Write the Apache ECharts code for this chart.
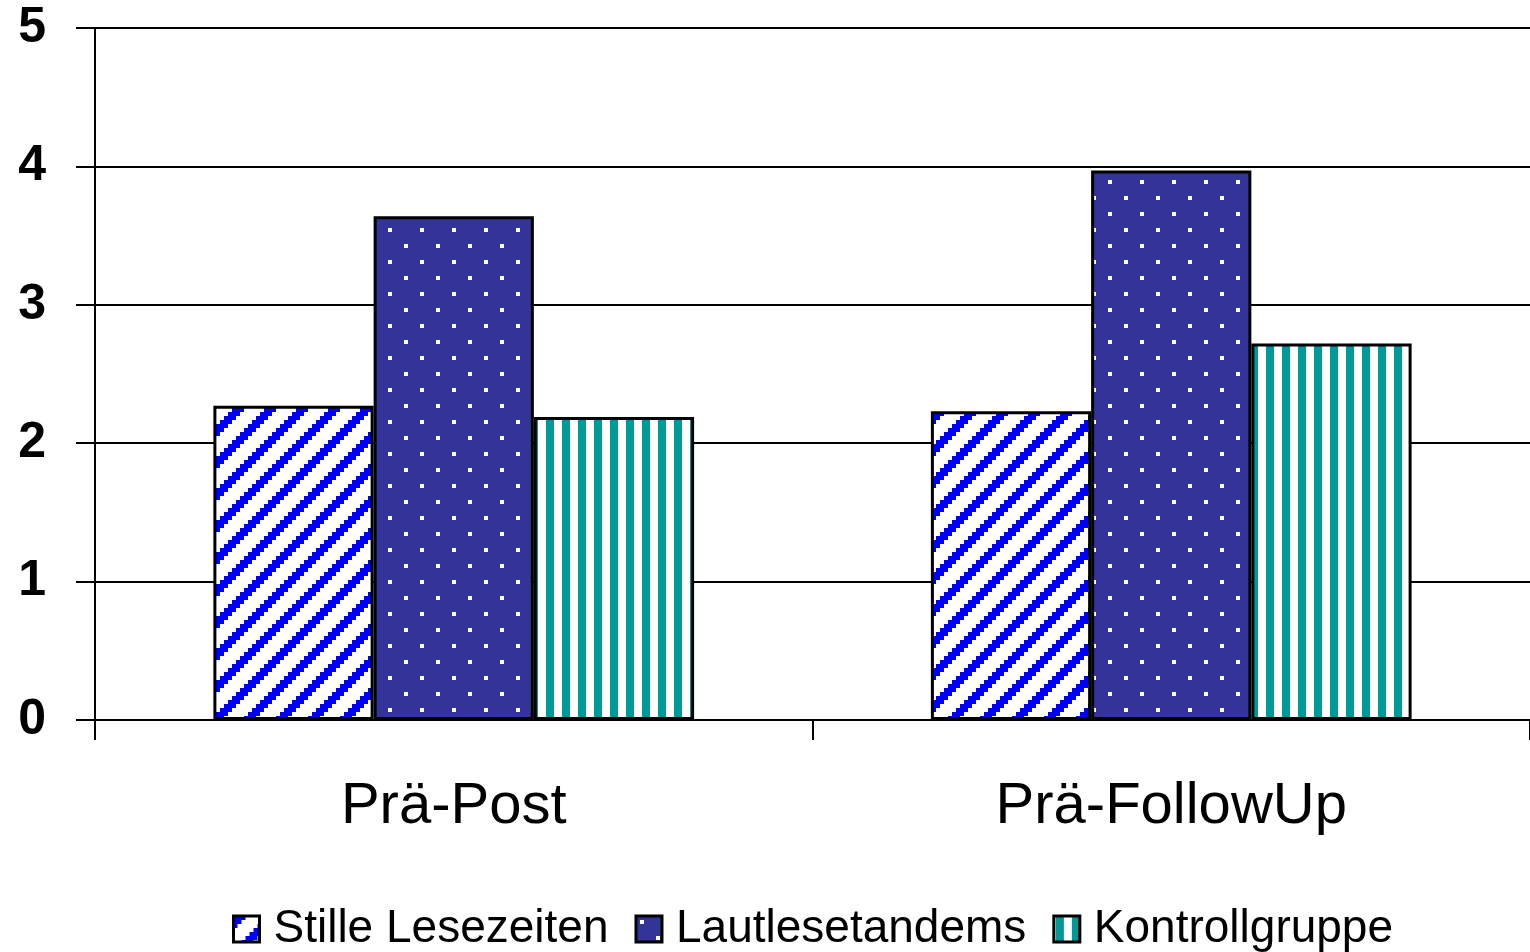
<!DOCTYPE html>
<html>
<head>
<meta charset="utf-8">
<script src="https://cdn.jsdelivr.net/npm/echarts@6/dist/echarts.min.js"></script>
<style>
	html, body { margin: 0; padding: 0; background: #fff; }
	#mychart { width: 1530px; height: 952px; }
</style>
</head>
<body>
<div id="mychart"></div>
<script>
var categories = ['Prä-Post', 'Prä-FollowUp'];
var seriesNames = ['Stille Lesezeiten', 'Lautlesetandems', 'Kontrollgruppe'];
var stille = [2.27, 2.23];
var laut = [3.64, 3.97];
var kontroll = [2.19, 2.72];
var yTicks = [0, 1, 2, 3, 4, 5];

// Muster für die Balken (8x8 Raster, 4-fach vergrößert)
function stripesDiag() {
	var c = document.createElement('canvas');
	c.width = 32; c.height = 32;
	var g = c.getContext('2d');
	g.fillStyle = '#fff';
	g.fillRect(0, 0, 32, 32);
	g.fillStyle = '#0000ff';
	for(var r = 0; r < 8; r++) {
		for(var col = 0; col < 8; col++) {
			if((col + r) % 8 < 3) {
				g.fillRect(col * 4, r * 4, 4, 4);
			}
		}
	}
	return c;
}

function dots() {
	var c = document.createElement('canvas');
	c.width = 32; c.height = 32;
	var g = c.getContext('2d');
	g.fillStyle = '#333399';
	g.fillRect(0, 0, 32, 32);
	g.fillStyle = '#fff';
	g.fillRect(4, 4, 4, 4);
	g.fillRect(20, 20, 4, 4);
	return c;
}

function stripesVert() {
	var c = document.createElement('canvas');
	c.width = 16; c.height = 16;
	var g = c.getContext('2d');
	g.fillStyle = '#fff';
	g.fillRect(0, 0, 16, 16);
	g.fillStyle = '#009999';
	g.fillRect(2, 0, 8, 16);
	return c;
}

var fills = [stripesDiag(), dots(), stripesVert()];
var values = [stille, laut, kontroll];

var series = [];
for(var i = 0; i < 3; i++) {
	series.push({
		name: seriesNames[i],
		type: 'bar',
		data: values[i],
		barGap: '0%',
		barCategoryGap: '33%',
		itemStyle: {
			color: { image: fills[i], repeat: 'repeat' },
			borderColor: '#000',
			borderWidth: 3
		}
	});
}

var myChart = echarts.init(document.getElementById('mychart'));
var option = {
	animation: false,
	grid: {
		left: 95,
		right: 0,
		top: 28,
		bottom: 232,
		containLabel: false
	},
	legend: {
		top: 901,
		left: 227,
		itemWidth: 26,
		itemHeight: 26,
		itemGap: 26,
		icon: 'rect',
		itemStyle: { borderColor: '#000', borderWidth: 3 },
		textStyle: {
			fontFamily: 'Liberation Sans, Arial, sans-serif',
			fontSize: 46,
			color: '#000',
			padding: [0, 0, 0, 9]
		},
		data: seriesNames
	},
	xAxis: {
		type: 'category',
		data: categories,
		axisLine: { lineStyle: { color: '#000', width: 2 } },
		axisTick: { show: true, length: 20, lineStyle: { color: '#000', width: 2 } },
		axisLabel: {
			margin: 58,
			fontFamily: 'Liberation Sans, Arial, sans-serif',
			fontSize: 58,
			color: '#000'
		}
	},
	yAxis: {
		type: 'value',
		min: yTicks[0],
		max: yTicks[yTicks.length - 1],
		interval: 1,
		axisLine: { show: true, lineStyle: { color: '#000', width: 2 } },
		axisTick: { show: true, length: 19, lineStyle: { color: '#000', width: 2 } },
		splitLine: { lineStyle: { color: '#000', width: 2 } },
		axisLabel: {
			margin: 49,
			fontFamily: 'Liberation Sans, Arial, sans-serif',
			fontSize: 50,
			fontWeight: 'bold',
			color: '#000'
		}
	},
	series: series
};
myChart.setOption(option);
</script>
</body>
</html>
